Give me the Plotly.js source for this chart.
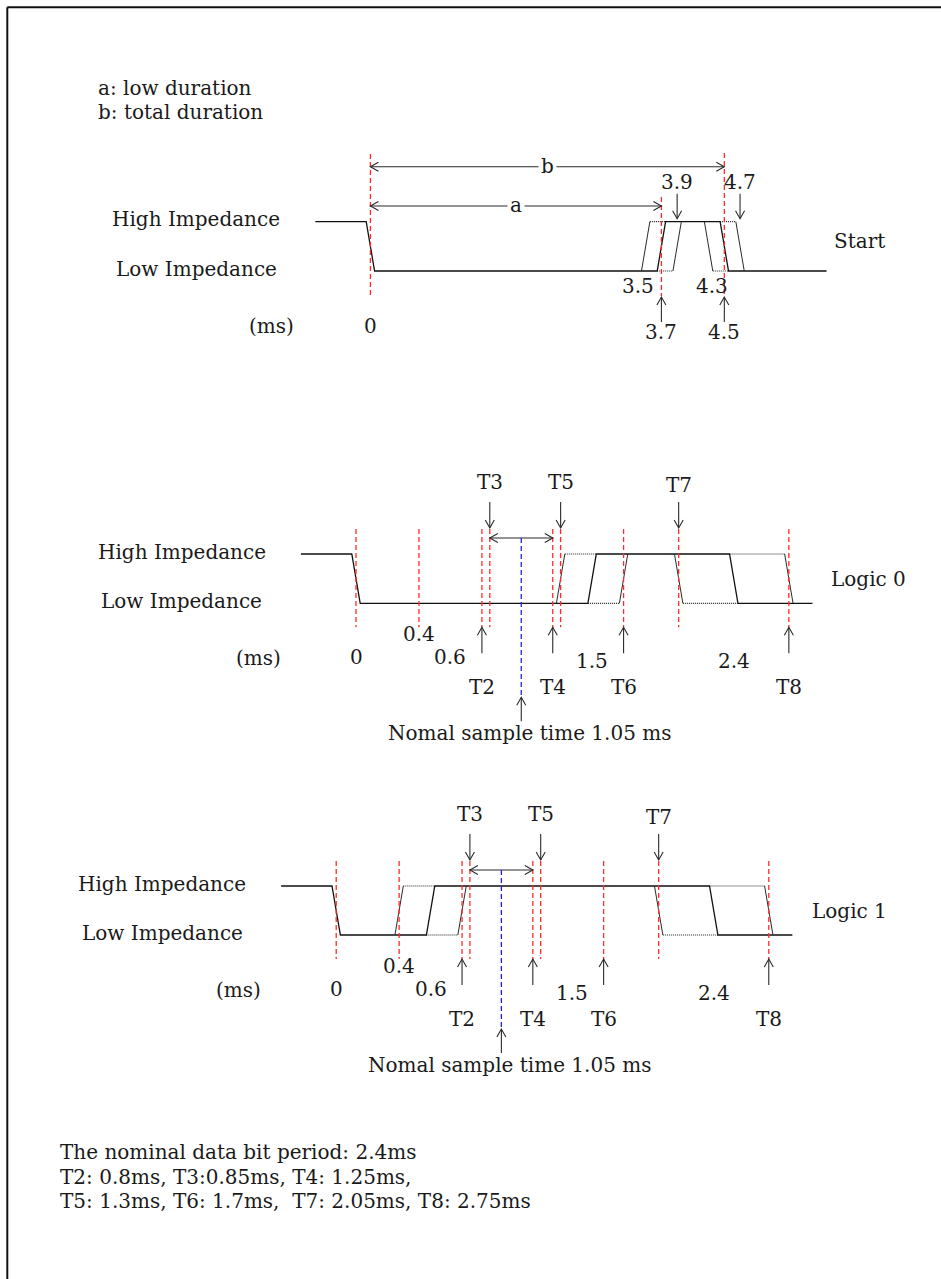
<!DOCTYPE html>
<html><head><meta charset="utf-8">
<script src="https://cdn.plot.ly/plotly-3.0.1.min.js"></script>
<style>html,body{margin:0;padding:0;background:#fff;} #chart{width:941px;height:1279px;}</style>
</head><body><div id="chart"></div>
<script>
// ---------------- data (ms) ----------------
const startFallTime = 0;
const startRiseTimes = [3.5, 3.7, 3.9];   // early, nominal, late rising edge
const startEndTimes = [4.3, 4.5, 4.7];    // early, nominal, late falling edge
const startSpan = [-0.7, 5.8];
const startMarkers = [0, 3.7, 4.5];       // red guide lines
const startLowDuration = [0, 3.7];        // a
const startTotalDuration = [0, 4.5];      // b
const startUpLabels = [3.7, 4.5];
const startDownLabels = [3.9, 4.7];
const startSideLabels = [3.5, 4.3];

const bitNames = ['T2', 'T3', 'T4', 'T5', 'T6', 'T7', 'T8'];
const bitTimes = [0.8, 0.85, 1.25, 1.3, 1.7, 2.05, 2.75];
const bitGuides = [0, 0.4, 0.8, 0.85, 1.25, 1.3, 1.7, 2.05, 2.75];
const bitTickVals = [0, 0.4, 0.6, 1.5, 2.4];
const bitTickText = ['0', '0.4', '0.6', '1.5', '2.4'];
const sampleTime = 1.05;
const bitSpan = [-0.35, 2.9];
const logic0Rise = [1.3, 1.5, 1.7];
const logic0Fall = [2.05, 2.4, 2.75];
const logic1Rise = [0.4, 0.6, 0.8];
const logic1Fall = [2.05, 2.4, 2.75];

// ---------------- style / geometry ----------------
const W = 941, H = 1279;
const FONT = {family: 'DejaVu Serif', size: 20, color: '#1a1a1a'};
const RED = '#ff2b2b', BLUE = '#1f1fff', ARROW = '#2a2a2a';
const py = px => 1 - px / H;
const secStart = {xa: 'x', ya: 'y', x0: 370.4, k: 78.65, hi: 221.7, lo: 271};
const secL0 = {xa: 'x2', ya: 'y2', x0: 356, k: 157.4, hi: 554, lo: 603.3};
const secL1 = {xa: 'x3', ya: 'y3', x0: 336.2, k: 157.3, hi: 886, lo: 935};
const EDGE_PX = 4.2;

const traces = [], shapes = [], annotations = [];

function axisX(sec, anchor) {
  return {domain: [0, 1], range: [-sec.x0 / sec.k, (W - sec.x0) / sec.k], visible: false, fixedrange: true, anchor};
}
function axisY(sec, anchor) {
  const v = px => (sec.lo - px) / (sec.lo - sec.hi);
  return {domain: [0, 1], range: [v(H), v(0)], visible: false, fixedrange: true, anchor};
}

function addWave(sec, span, fall0, rise, fall) {
  const h = EDGE_PX / sec.k;
  // nominal waveform
  traces.push({
    x: [span[0], fall0 - h, fall0 + h, rise[1] - h, rise[1] + h, fall[1] - h, fall[1] + h, span[1]],
    y: [1, 1, 0, 0, 1, 1, 0, 0],
    xaxis: sec.xa, yaxis: sec.ya, mode: 'lines', line: {color: '#111', width: 1.3}, hoverinfo: 'skip'
  });
  // early / late edges (thin)
  traces.push({
    x: [rise[0] - h, rise[0] + h, null, rise[2] - h, rise[2] + h, null,
        fall[0] - h, fall[0] + h, null, fall[2] - h, fall[2] + h],
    y: [0, 1, null, 0, 1, null, 1, 0, null, 1, 0],
    xaxis: sec.xa, yaxis: sec.ya, mode: 'lines', connectgaps: false,
    line: {color: '#2a2a2a', width: 1}, hoverinfo: 'skip'
  });
  // early / late levels (dotted)
  traces.push({
    x: [rise[0] + h, rise[1] + h, null, rise[1] - h, rise[2] - h, null,
        fall[0] + h, fall[1] + h, null, fall[1] - h, fall[2] - h],
    y: [1, 1, null, 0, 0, null, 0, 0, null, 1, 1],
    xaxis: sec.xa, yaxis: sec.ya, mode: 'lines', connectgaps: false,
    line: {color: '#222', width: 1.2, dash: '1px,1px'}, hoverinfo: 'skip'
  });
}

function vline(sec, t, topPx, botPx, color) {
  shapes.push({type: 'line', xref: sec.xa, yref: 'paper', x0: t, x1: t, y0: py(topPx), y1: py(botPx),
    line: {color, width: 1.3, dash: '5px,3px'}});
}
function chevron(sec, t, yPx, dir) {
  const L = 8, Hw = 4.5, dx = p => p / sec.k;
  let p;
  if (dir === 'down') p = [[t - dx(Hw), yPx - L], [t, yPx], [t + dx(Hw), yPx - L]];
  if (dir === 'up') p = [[t - dx(Hw), yPx + L], [t, yPx], [t + dx(Hw), yPx + L]];
  if (dir === 'left') p = [[t + dx(L), yPx - Hw], [t, yPx], [t + dx(L), yPx + Hw]];
  if (dir === 'right') p = [[t - dx(L), yPx - Hw], [t, yPx], [t - dx(L), yPx + Hw]];
  const path = 'M ' + p.map(q => q[0] + ',' + py(q[1])).join(' L ');
  shapes.push({type: 'path', xref: sec.xa, yref: 'paper', path, line: {color: ARROW, width: 1.1}, fillcolor: 'rgba(0,0,0,0)'});
}
function vArrow(sec, t, tipPx, tailPx) {
  shapes.push({type: 'line', xref: sec.xa, yref: 'paper', x0: t, x1: t, y0: py(tipPx), y1: py(tailPx),
    line: {color: ARROW, width: 1.1}});
  chevron(sec, t, tipPx, tipPx > tailPx ? 'down' : 'up');
}
function hArrow(sec, t0, t1, yPx) {
  shapes.push({type: 'line', xref: sec.xa, yref: 'paper', x0: t0, x1: t1, y0: py(yPx), y1: py(yPx),
    line: {color: ARROW, width: 1.1}});
  chevron(sec, t0, yPx, 'left');
  chevron(sec, t1, yPx, 'right');
}
function label(text, xref, x, yPx, extra) {
  annotations.push(Object.assign({text: String(text), xref, yref: 'paper', x, y: py(yPx), showarrow: false,
    xanchor: 'center', yanchor: 'middle', font: FONT}, extra || {}));
}
const px = v => v / W;

// ---------------- Start section ----------------
(function () {
  const s = secStart;
  addWave(s, startSpan, startFallTime, startRiseTimes, startEndTimes);
  const guideTop = [154, 197, 153];
  startMarkers.forEach((t, i) => vline(s, t, guideTop[i], 296, RED));
  hArrow(s, startTotalDuration[0], startTotalDuration[1], 166.7);
  label('b', s.xa, (startTotalDuration[0] + startTotalDuration[1]) / 2, 166, {bgcolor: '#ffffff', borderpad: 2});
  hArrow(s, startLowDuration[0], startLowDuration[1], 206);
  label('a', s.xa, (startLowDuration[0] + startLowDuration[1]) / 2, 205, {bgcolor: '#ffffff', borderpad: 2});
  startDownLabels.forEach(t => { vArrow(s, t, s.hi - 3, s.hi - 28); label(t, s.xa, t, s.hi - 40); });
  startUpLabels.forEach(t => { vArrow(s, t, s.lo + 26, s.lo + 51); label(t, s.xa, t, s.lo + 61); });
  const sideShift = [-8, 3];
  startSideLabels.forEach((t, i) => label(t, s.xa, t, s.lo + 15, {xshift: sideShift[i]}));
  label('0', s.xa, 0, s.lo + 55);
  label('(ms)', 'paper', px(271), s.lo + 55);
  label('High Impedance', 'paper', px(196), 219);
  label('Low Impedance', 'paper', px(196), 269);
  label('Start', 'paper', px(859.5), 241);
})();

// ---------------- Logic sections ----------------
function bitSection(s, rise, fall, name, labelX, msX, nameX) {
  addWave(s, bitSpan, 0, rise, fall);
  bitGuides.forEach(t => vline(s, t, s.hi - 25, s.lo + 24, RED));
  bitNames.forEach((n, i) => {
    const t = bitTimes[i];
    if (i % 2 === 1) {
      vArrow(s, t, s.hi - 26, s.hi - 52);
      label(n, s.xa, t, s.hi - (n === 'T7' ? 69 : 72));
    } else {
      vArrow(s, t, s.lo + 24, s.lo + 50);
      label(n, s.xa, t, s.lo + 83.5);
    }
  });
  hArrow(s, bitTimes[1], bitTimes[2], s.hi - 16);
  shapes.push({type: 'line', xref: s.xa, yref: 'paper', x0: sampleTime, x1: sampleTime,
    y0: py(s.hi - 16), y1: py(s.lo + 94), line: {color: BLUE, width: 1.3, dash: '5px,3px'}});
  vArrow(s, sampleTime, s.lo + 94, s.lo + 118);
  label('Nomal sample time ' + sampleTime + ' ms', s.xa, sampleTime, s.lo + 130, {xshift: 8});
  const tickOff = [54, 31, 54, 58, 58];
  bitTickVals.forEach((t, i) => label(bitTickText[i], s.xa, t, s.lo + tickOff[i]));
  label('(ms)', 'paper', px(msX), s.lo + 55);
  label('High Impedance', 'paper', px(labelX), s.hi - 2);
  label('Low Impedance', 'paper', px(labelX), s.lo - 2);
  label(name, 'paper', px(nameX), s.hi + 24.5);
}
bitSection(secL0, logic0Rise, logic0Fall, 'Logic 0', 181.5, 258, 868);
bitSection(secL1, logic1Rise, logic1Fall, 'Logic 1', 162, 238, 849);

// ---------------- notes ----------------
const notesTop = ['a: low duration', 'b: total duration'];
notesTop.forEach((t, i) => label(t, 'paper', px(96), 88 + 24 * i, {xanchor: 'left'}));
const notesBottom = ['The nominal data bit period: 2.4ms',
  'T2: 0.8ms, T3:0.85ms, T4: 1.25ms,',
  'T5: 1.3ms, T6: 1.7ms,\u00a0 T7: 2.05ms, T8: 2.75ms'];
notesBottom.forEach((t, i) => label(t, 'paper', px(58), 1152 + 24.5 * i, {xanchor: 'left'}));

// frame
shapes.push({type: 'line', xref: 'paper', yref: 'paper', x0: px(7.3), x1: 1, y0: py(7.3), y1: py(7.3), line: {color: '#111', width: 2}});
shapes.push({type: 'line', xref: 'paper', yref: 'paper', x0: px(7.3), x1: px(7.3), y0: py(7.3), y1: 0, line: {color: '#111', width: 2}});

const layout = {
  width: W, height: H, margin: {l: 0, r: 0, t: 0, b: 0},
  paper_bgcolor: '#ffffff', plot_bgcolor: 'rgba(0,0,0,0)', showlegend: false,
  xaxis: axisX(secStart, 'y'), yaxis: axisY(secStart, 'x'),
  xaxis2: axisX(secL0, 'y2'), yaxis2: axisY(secL0, 'x2'),
  xaxis3: axisX(secL1, 'y3'), yaxis3: axisY(secL1, 'x3'),
  shapes, annotations
};
Plotly.newPlot('chart', traces, layout, {displayModeBar: false, staticPlot: true});
</script></body></html>
